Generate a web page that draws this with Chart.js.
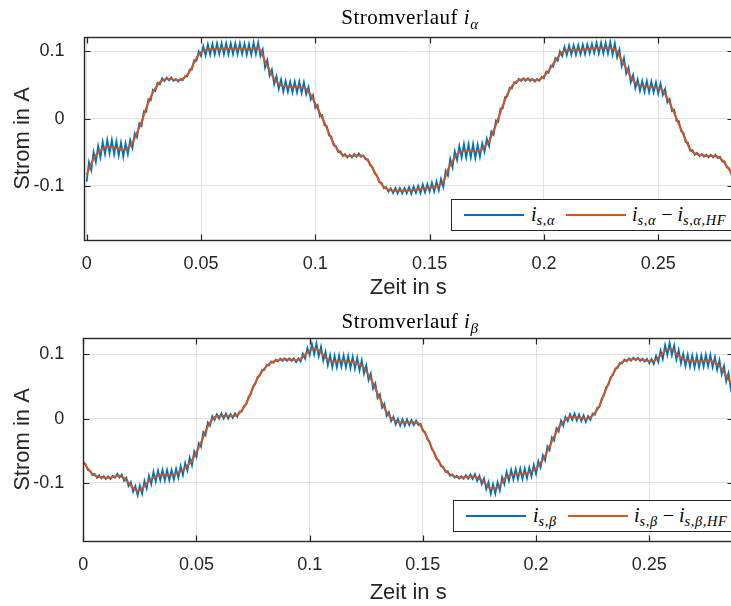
<!DOCTYPE html>
<html>
<head>
<meta charset="utf-8">
<script src="https://cdn.jsdelivr.net/npm/chart.js@4.4.1/dist/chart.umd.min.js"></script>
<style>
  html, body { margin: 0; padding: 0; background: #fff; overflow: hidden; }
  #wrap { position: relative; width: 731px; height: 606px; overflow: hidden; background: #fff; }
  .panel { position: absolute; left: 0; }
  canvas { display: block; }
  .title { position: absolute; transform: translateX(-50%); white-space: nowrap;
           font-family: 'Liberation Serif', 'DejaVu Serif', serif; font-size: 21px; letter-spacing: 0.5px;
           color: #000; line-height: 24px; }
  .m { font-family: 'Liberation Serif', 'DejaVu Serif', serif; font-style: italic; }
  .m sub { font-size: 0.72em; vertical-align: -0.3em; line-height: 0; letter-spacing: 0.6px; }
  .legend { position: absolute; width: 300px; height: 32px; background: #fff;
            border: 1.3px solid #262626; box-sizing: border-box; }
  .sample { position: absolute; height: 2px; width: 60px; }
  .lab { position: absolute; white-space: nowrap; font-size: 20px; line-height: 22px; color: #000; }
</style>
</head>
<body>
<div id="wrap">
  <div class="panel" style="top:0"><canvas id="alpha" width="745" height="302"></canvas></div>
  <div class="panel" style="top:300px"><canvas id="beta" width="745" height="306"></canvas></div>

  <div class="title" style="left:410px;top:5px">Stromverlauf <span class="m">i<sub>α</sub></span></div>
  <div class="title" style="left:410px;top:309px">Stromverlauf <span class="m">i<sub>β</sub></span></div>

  <div class="legend" style="left:451px;top:199px">
    <span class="sample" style="left:12px;top:14px;background:#0072BD"></span>
    <span class="lab m" style="left:79px;top:3px">i<sub>s,α</sub></span>
    <span class="sample" style="left:114px;top:14px;background:#D95319"></span>
    <span class="lab m" style="left:180px;top:3px">i<sub>s,α</sub> <span style="font-style:normal">−</span> i<sub>s,α,HF</sub></span>
  </div>
  <div class="legend" style="left:453px;top:500px">
    <span class="sample" style="left:12px;top:14px;background:#0072BD"></span>
    <span class="lab m" style="left:79px;top:3px">i<sub>s,β</sub></span>
    <span class="sample" style="left:114px;top:14px;background:#D95319"></span>
    <span class="lab m" style="left:180px;top:3px">i<sub>s,β</sub> <span style="font-style:normal">−</span> i<sub>s,β,HF</sub></span>
  </div>
</div>
<script>
// Sample spacing of the recorded signals (s)
const rawStep = 0.001;
const filteredStep = 0.002;

// Axis ticks
const xTicks = [0, 0.05, 0.1, 0.15, 0.2, 0.25];
const xTickLabels = ['0', '0.05', '0.1', '0.15', '0.2', '0.25'];
const yTicks = [-0.1, 0, 0.1];
const yTickLabels = ['-0.1', '0', '0.1'];

// i_alpha: measured current (A)
const alphaRaw = [
  -0.094,-0.065,-0.077,-0.050,-0.065,-0.041,-0.058,-0.035,-0.053,-0.032,
  -0.052,-0.032,-0.053,-0.034,-0.055,-0.036,-0.057,-0.037,-0.053,-0.032,
  -0.044,-0.022,-0.028,-0.007,-0.011,0.011,0.010,0.029,0.027,0.043,
  0.041,0.053,0.051,0.060,0.056,0.061,0.057,0.061,0.056,0.059,
  0.055,0.059,0.057,0.063,0.063,0.073,0.073,0.087,0.086,0.100,
  0.093,0.108,0.094,0.1105,0.095,0.111,0.0955,0.112,0.096,0.112,
  0.096,0.112,0.096,0.112,0.096,0.112,0.096,0.112,0.096,0.1115,
  0.095,0.111,0.095,0.113,0.096,0.113,0.093,0.103,0.076,0.087,
  0.064,0.073,0.051,0.063,0.044,0.058,0.040,0.056,0.040,0.055,
  0.039,0.055,0.039,0.055,0.038,0.054,0.036,0.047,0.028,0.035,
  0.016,0.020,0.003,0.005,-0.010,-0.011,-0.025,-0.027,-0.040,-0.041,
  -0.050,-0.049,-0.056,-0.053,-0.058,-0.054,-0.058,-0.053,-0.057,-0.052,
  -0.057,-0.055,-0.061,-0.061,-0.070,-0.072,-0.082,-0.085,-0.095,-0.096,
  -0.104,-0.102,-0.109,-0.104,-0.111,-0.1035,-0.1115,-0.1035,-0.1115,-0.1035,
  -0.1115,-0.102,-0.112,-0.1015,-0.111,-0.1005,-0.111,-0.0985,-0.110,-0.0975,
  -0.109,-0.0955,-0.109,-0.094,-0.107,-0.090,-0.102,-0.078,-0.085,-0.060,
  -0.073,-0.049,-0.062,-0.041,-0.058,-0.038,-0.058,-0.038,-0.058,-0.038,
  -0.059,-0.039,-0.057,-0.037,-0.050,-0.030,-0.041,-0.019,-0.024,-0.003,
  -0.005,0.015,0.015,0.032,0.033,0.046,0.045,0.054,0.053,0.059,
  0.056,0.060,0.056,0.060,0.056,0.059,0.055,0.059,0.056,0.062,
  0.060,0.070,0.068,0.079,0.077,0.090,0.086,0.100,0.093,0.107,
  0.0945,0.109,0.095,0.109,0.095,0.1095,0.0955,0.110,0.096,0.1105,
  0.097,0.111,0.0975,0.113,0.097,0.113,0.097,0.113,0.097,0.114,
  0.095,0.112,0.091,0.103,0.078,0.090,0.067,0.076,0.054,0.065,
  0.045,0.058,0.041,0.056,0.040,0.056,0.039,0.055,0.039,0.054,
  0.037,0.052,0.035,0.044,0.024,0.029,0.011,0.013,-0.004,-0.004,
  -0.019,-0.021,-0.035,-0.036,-0.048,-0.047,-0.054,-0.051,-0.056,-0.053,
  -0.057,-0.054,-0.058,-0.054,-0.058,-0.054,-0.059,-0.057,-0.064,-0.064,
  -0.073,-0.074,-0.083,-0.084
];

// i_alpha with the high-frequency part removed (A)
const alphaFiltered = [
  -0.084,-0.067,-0.055,-0.048,-0.043,-0.042,-0.043,-0.045,-0.047,-0.044,
  -0.036,-0.021,-0.005,0.015,0.032,0.045,0.054,0.058,0.059,0.058,
  0.057,0.059,0.065,0.076,0.090,0.099,0.102,0.103,0.1035,0.104,
  0.104,0.104,0.104,0.104,0.104,0.103,0.103,0.105,0.102,0.085,
  0.072,0.059,0.052,0.048,0.048,0.047,0.047,0.046,0.044,0.035,
  0.022,0.008,-0.006,-0.022,-0.037,-0.048,-0.054,-0.056,-0.056,-0.055,
  -0.055,-0.059,-0.068,-0.080,-0.093,-0.102,-0.106,-0.1075,-0.1075,-0.1075,
  -0.1075,-0.107,-0.106,-0.105,-0.104,-0.103,-0.102,-0.100,-0.094,-0.076,
  -0.064,-0.053,-0.049,-0.048,-0.048,-0.049,-0.048,-0.042,-0.034,-0.018,
  0.000,0.019,0.036,0.048,0.055,0.058,0.058,0.058,0.057,0.058,
  0.063,0.071,0.081,0.091,0.099,0.1015,0.102,0.102,0.1025,0.103,
  0.104,0.1045,0.105,0.105,0.105,0.104,0.100,0.087,0.075,0.062,
  0.053,0.049,0.048,0.047,0.047,0.045,0.042,0.030,0.016,0.000,
  -0.016,-0.032,-0.046,-0.052,-0.054,-0.055,-0.056,-0.056,-0.057,-0.062,
  -0.071,-0.081,-0.090
];

// i_beta: measured current (A)
const betaRaw = [
  -0.069,-0.071,-0.080,-0.081,-0.088,-0.086,-0.092,-0.0885,-0.093,-0.0895,
  -0.094,-0.090,-0.094,-0.089,-0.092,-0.086,-0.092,-0.087,-0.097,-0.092,
  -0.105,-0.099,-0.114,-0.105,-0.1195,-0.104,-0.117,-0.097,-0.109,-0.089,
  -0.102,-0.083,-0.098,-0.081,-0.096,-0.080,-0.096,-0.080,-0.096,-0.080,
  -0.095,-0.078,-0.092,-0.074,-0.088,-0.069,-0.081,-0.061,-0.073,-0.051,
  -0.060,-0.038,-0.044,-0.021,-0.026,-0.006,-0.011,0.004,-0.002,0.007,
  0.000,0.008,0.000,0.008,0.000,0.007,0.001,0.008,0.003,0.011,
  0.011,0.020,0.022,0.034,0.038,0.050,0.054,0.065,0.067,0.076,
  0.076,0.084,0.083,0.089,0.087,0.092,0.089,0.0935,0.090,0.094,
  0.090,0.094,0.090,0.094,0.088,0.094,0.089,0.101,0.0935,0.110,
  0.099,0.116,0.100,0.117,0.097,0.112,0.090,0.104,0.083,0.099,
  0.080,0.098,0.080,0.0985,0.081,0.0985,0.080,0.098,0.079,0.0965,
  0.078,0.095,0.075,0.091,0.070,0.083,0.060,0.070,0.047,0.055,
  0.032,0.038,0.017,0.023,0.004,0.010,-0.004,0.003,-0.009,0.000,
  -0.011,-0.001,-0.011,-0.001,-0.010,-0.002,-0.010,-0.003,-0.010,-0.008,
  -0.019,-0.021,-0.032,-0.036,-0.048,-0.052,-0.063,-0.065,-0.074,-0.075,
  -0.083,-0.082,-0.089,-0.087,-0.092,-0.089,-0.0935,-0.0896,-0.0936,-0.088,
  -0.0935,-0.087,-0.094,-0.0865,-0.097,-0.089,-0.102,-0.093,-0.110,-0.099,
  -0.117,-0.102,-0.117,-0.099,-0.112,-0.091,-0.102,-0.083,-0.097,-0.0795,
  -0.095,-0.0785,-0.0945,-0.078,-0.094,-0.0775,-0.093,-0.076,-0.090,-0.072,
  -0.086,-0.066,-0.076,-0.057,-0.065,-0.043,-0.049,-0.029,-0.034,-0.015,
  -0.020,-0.003,-0.011,0.003,-0.004,0.007,-0.002,0.008,-0.003,0.0065,
  -0.004,0.005,-0.005,0.004,-0.002,0.008,0.006,0.017,0.018,0.031,
  0.036,0.049,0.053,0.065,0.068,0.078,0.079,0.087,0.086,0.092,
  0.089,0.094,0.0905,0.095,0.091,0.0945,0.090,0.0935,0.089,0.093,
  0.0865,0.093,0.085,0.098,0.088,0.106,0.093,0.1145,0.099,0.118,
  0.099,0.114,0.092,0.107,0.086,0.101,0.082,0.0995,0.081,0.0985,
  0.080,0.098,0.080,0.0985,0.081,0.0995,0.0816,0.099,0.080,0.096,
  0.076,0.091,0.069,0.082,0.058,0.071,0.047,0.059
];

// i_beta with the high-frequency part removed (A)
const betaFiltered = [
  -0.067,-0.078,-0.086,-0.090,-0.091,-0.092,-0.092,-0.090,-0.089,-0.093,
  -0.100,-0.108,-0.1125,-0.109,-0.101,-0.094,-0.090,-0.088,-0.088,-0.088,
  -0.087,-0.084,-0.080,-0.073,-0.065,-0.052,-0.037,-0.020,-0.006,0.002,
  0.004,0.004,0.004,0.004,0.006,0.013,0.024,0.040,0.056,0.069,
  0.078,0.085,0.089,0.091,0.092,0.092,0.092,0.091,0.093,0.0995,
  0.106,0.109,0.106,0.099,0.092,0.089,0.089,0.090,0.089,0.088,
  0.087,0.084,0.079,0.068,0.055,0.039,0.024,0.010,0.001,-0.004,
  -0.006,-0.006,-0.006,-0.006,-0.007,-0.017,-0.030,-0.046,-0.061,-0.072,
  -0.081,-0.087,-0.090,-0.0915,-0.0916,-0.0905,-0.090,-0.092,-0.096,-0.103,
  -0.109,-0.109,-0.104,-0.094,-0.089,-0.087,-0.0865,-0.086,-0.085,-0.082,
  -0.078,-0.069,-0.058,-0.043,-0.028,-0.014,-0.005,0.001,0.003,0.002,
  0.001,0.000,0.002,0.009,0.020,0.038,0.055,0.070,0.081,0.088,
  0.091,0.0925,0.093,0.092,0.091,0.0895,0.090,0.095,0.102,0.108,
  0.108,0.101,0.095,0.091,0.090,0.089,0.089,0.090,0.0906,0.089,
  0.085,0.078,0.067,0.056
];

const toPoints = (values, step) => values.map((v, i) => ({ x: +(i * step).toFixed(4), y: v }));

const labelFor = (ticks, labels) => (value) => {
  const i = ticks.findIndex(t => Math.abs(t - value) < 1e-9);
  return i >= 0 ? labels[i] : '';
};

// Box with inward tick marks drawn over the traces
const framePlugin = {
  id: 'frame',
  afterDatasetsDraw(chart) {
    const { ctx, chartArea: a, scales: { x, y } } = chart;
    const L = Math.round(a.left) + 0.5, T = Math.round(a.top) + 0.5;
    const R = Math.round(a.right) + 0.5, B = Math.round(a.bottom) + 0.5;
    ctx.save();
    ctx.strokeStyle = '#262626';
    ctx.lineWidth = 1.4;
    ctx.strokeRect(L, T, R - L, B - T);
    ctx.lineWidth = 1.2;
    ctx.beginPath();
    for (const v of xTicks) {
      const px = Math.round(x.getPixelForValue(v)) + 0.5;
      ctx.moveTo(px, B); ctx.lineTo(px, B - 6);
      ctx.moveTo(px, T); ctx.lineTo(px, T + 6);
    }
    for (const v of yTicks) {
      const py = Math.round(y.getPixelForValue(v)) + 0.5;
      ctx.moveTo(L, py); ctx.lineTo(L + 6, py);
      ctx.moveTo(R, py); ctx.lineTo(R - 6, py);
    }
    ctx.stroke();
    ctx.restore();
  }
};

function makePanel(id, cfg) {
  const canvas = document.getElementById(id);
  const H = canvas.height;
  const font = { family: "'Liberation Sans', Arial, sans-serif", size: 18 };
  const titleFont = { family: "'Liberation Sans', Arial, sans-serif", size: 22 };
  return new Chart(canvas, {
    type: 'line',
    data: {
      datasets: [
        { label: cfg.rawLabel, data: toPoints(cfg.raw, rawStep), borderColor: '#0072BD',
          borderWidth: 1.8, pointRadius: 0, tension: 0, order: 1 },
        { label: cfg.filteredLabel, data: toPoints(cfg.filtered, filteredStep), borderColor: '#D95319',
          borderWidth: 2, pointRadius: 0, cubicInterpolationMode: 'monotone', order: 0 }
      ]
    },
    options: {
      responsive: false, animation: false, devicePixelRatio: 1,
      parsing: false, normalized: true,
      layout: { padding: { top: cfg.top, right: canvas.width - 733, left: 0, bottom: 0 } },
      plugins: { legend: { display: false }, tooltip: { enabled: false }, title: { display: false } },
      scales: {
        x: {
          type: 'linear', min: cfg.xmin, max: cfg.xmax,
          afterBuildTicks: s => { s.ticks = xTicks.map(v => ({ value: v })); },
          afterFit: s => { s.height = H - cfg.bottom; },
          grid: { color: '#e2e2e2', lineWidth: 1, drawTicks: false },
          border: { display: false },
          ticks: { padding: cfg.xTickPad, font, color: '#262626', maxRotation: 0, autoSkip: false,
                   callback: labelFor(xTicks, xTickLabels) },
          title: { display: true, text: 'Zeit in s', font: titleFont, color: '#262626',
                   padding: { top: 0, bottom: cfg.xTitlePad } }
        },
        y: {
          type: 'linear', min: cfg.ymin, max: cfg.ymax,
          afterBuildTicks: s => { s.ticks = yTicks.map(v => ({ value: v })); },
          afterFit: s => { s.width = cfg.left; },
          grid: { color: '#e2e2e2', lineWidth: 1, drawTicks: false },
          border: { display: false },
          ticks: { padding: 19, font, color: '#262626', autoSkip: false,
                   callback: labelFor(yTicks, yTickLabels) },
          title: { display: true, text: 'Strom in A', font: titleFont, color: '#262626',
                   padding: { top: 10, bottom: 0 } }
        }
      }
    },
    plugins: [framePlugin]
  });
}

makePanel('alpha', {
  raw: alphaRaw, filtered: alphaFiltered,
  rawLabel: 'i_s,alpha', filteredLabel: 'i_s,alpha - i_s,alpha,HF',
  xmin: -0.0014, xmax: 0.2827, ymin: -0.181, ymax: 0.1215,
  top: 37, bottom: 240, left: 83.5, xTickPad: 13, xTitlePad: 1
});
makePanel('beta', {
  raw: betaRaw, filtered: betaFiltered,
  rawLabel: 'i_s,beta', filteredLabel: 'i_s,beta - i_s,beta,HF',
  xmin: 0, xmax: 0.287, ymin: -0.1906, ymax: 0.1256,
  top: 38, bottom: 241, left: 83.3, xTickPad: 13.5, xTitlePad: 0
});
</script>
</body>
</html>
